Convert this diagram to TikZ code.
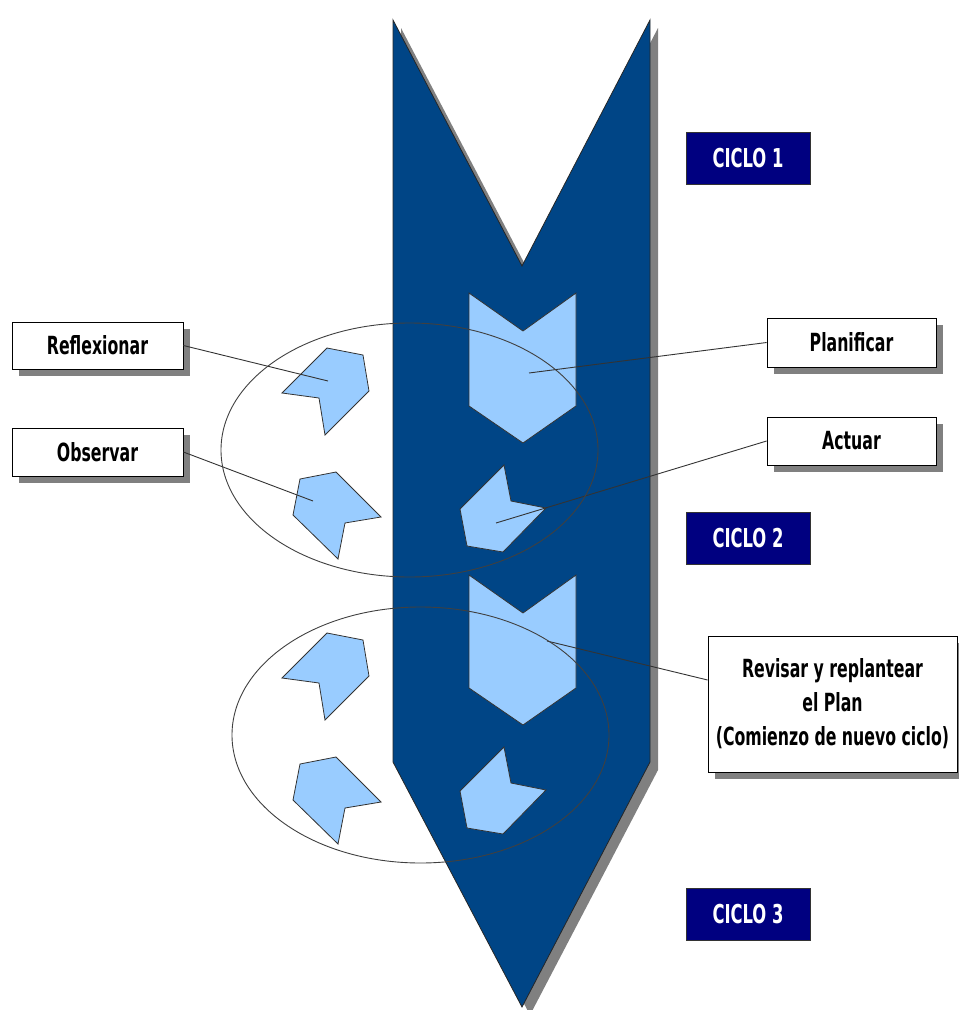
\documentclass[tikz,border=0pt]{standalone}
\usepackage{fontspec}
\newfontfamily\lblfont{DejaVu Sans Condensed Bold}[FakeStretch=0.70]
\usetikzlibrary{shadows}
\definecolor{arrowblue}{HTML}{004586}
\definecolor{paleblue}{HTML}{99CCFF}
\definecolor{navyblue}{HTML}{000080}
\definecolor{shadowgray}{HTML}{808080}
\begin{document}
\begin{tikzpicture}[x=1pt,y=-1pt,
  label/.style={draw=black, fill=white, line width=0.8pt, align=center, inner sep=0pt,
    font=\lblfont\fontsize{25}{34}\selectfont,
    drop shadow={shadow xshift=7pt, shadow yshift=-7pt, fill=shadowgray, opacity=1}},
  ciclo/.style={draw=black!80, fill=navyblue, text=white, inner sep=0pt,
    font=\lblfont\fontsize{26}{30}\selectfont, minimum width=124pt, minimum height=52pt},
  piece/.style={fill=paleblue, draw=black!80, line width=0.8pt, line join=miter},
  ptr/.style={draw=black!80, line width=0.9pt},
  ring/.style={draw=black!75, line width=0.9pt}]
\useasboundingbox (0,0) rectangle (959,1010);

% main downward arrow with its shadow
\fill[shadowgray] (401,28) -- (530,274) -- (658,28) -- (658,770) -- (530,1015) -- (401,770) -- cycle;
\filldraw[fill=arrowblue, draw=black!85, line width=0.8pt]
  (393,20) -- (522,266) -- (650,20) -- (650,762) -- (522,1007) -- (393,762) -- cycle;

% cycle 1 pieces
\path[piece] (469,293) -- (523,331) -- (576,293) -- (576,406) -- (523,443) -- (469,406) -- cycle;
\path[piece] (327,348) -- (363,355) -- (369,391) -- (325,435) -- (319,398) -- (282,393) -- cycle;
\path[piece] (300,479) -- (336,472) -- (381,517) -- (345,523) -- (338,559) -- (293,515) -- cycle;
\path[piece] (504,465) -- (511,501) -- (546,508) -- (503,552) -- (467,546) -- (460,509) -- cycle;

% cycle 2 pieces
\begin{scope}[yshift=-282pt]
\path[piece] (469,293) -- (523,331) -- (576,293) -- (576,406) -- (523,443) -- (469,406) -- cycle;
\path[piece] (504,465) -- (511,501) -- (546,508) -- (503,552) -- (467,546) -- (460,509) -- cycle;
\end{scope}
\begin{scope}[yshift=-285pt]
\path[piece] (327,348) -- (363,355) -- (369,391) -- (325,435) -- (319,398) -- (282,393) -- cycle;
\path[piece] (300,479) -- (336,472) -- (381,517) -- (345,523) -- (338,559) -- (293,515) -- cycle;
\end{scope}

% label boxes
\node[label, minimum width=171pt, minimum height=47pt] (refl) at (97.5,345.5) {Reflexionar};
\node[label, minimum width=171pt, minimum height=48pt] (obs) at (97.5,452) {Observar};
\node[label, minimum width=169pt, minimum height=49pt] (plan) at (851.5,342.5) {Planificar};
\node[label, minimum width=169pt, minimum height=48pt] (act) at (851.5,441) {Actuar};
\node[label, minimum width=249pt, minimum height=136pt] (rev) at (832.5,704)
  {Revisar y replantear\\el Plan\\(Comienzo de nuevo ciclo)};

% cycle tags
\node[ciclo] (c1) at (748,158) {CICLO 1};
\node[ciclo] (c2) at (748,538.5) {CICLO 2};
\node[ciclo] (c3) at (748,914.5) {CICLO 3};

% pointer ends
\coordinate (prefl) at (328,381);
\coordinate (pobs) at (313,501);
\coordinate (pplan) at (529,373);
\coordinate (pact) at (496,523);
\coordinate (prev) at (547,641);

\draw[ptr] (refl.east) -- (prefl);
\draw[ptr] (obs.east) -- (pobs);
\draw[ptr] (plan.west) -- (pplan);
\draw[ptr] (act.west) -- (pact);
\draw[ptr] (rev.west |- 0,680) -- (prev);

% cycle rings
\draw[ring] (409.5,450) ellipse [x radius=188.5pt, y radius=127pt];
\draw[ring] (420.5,735) ellipse [x radius=188.5pt, y radius=128pt];
\end{tikzpicture}
\end{document}
